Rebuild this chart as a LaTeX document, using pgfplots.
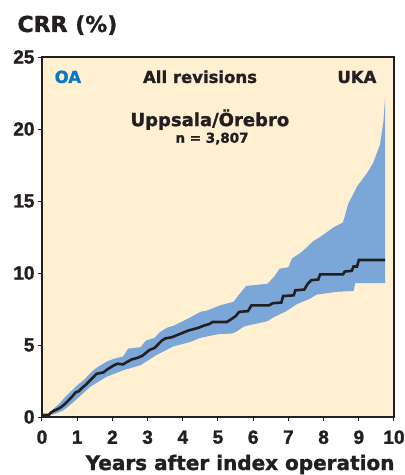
\documentclass[border=0pt]{standalone}
\usepackage{pgfplots}
\pgfplotsset{compat=1.18}
\usepackage{fontspec}
\setmainfont{DejaVu Sans}[BoldFeatures={FakeBold=1.3}]
\newfontfamily\tickfont{Liberation Sans}[BoldFeatures={FakeBold=1.5}]
\definecolor{bgc}{HTML}{FFF0D2}
\definecolor{band}{HTML}{7AA6D8}
\definecolor{oablue}{HTML}{0A78C2}
\definecolor{axc}{HTML}{231F20}
\begin{document}
\begin{tikzpicture}
  \begin{axis}[
      at={(0,0)},anchor=south west,
      width=352pt,height=360pt,scale only axis,
      xmin=0,xmax=10,ymin=0,ymax=25,
      xtick={0,1,...,10},ytick={0,5,...,25},
      tick align=outside,tick pos=left,major tick length=4pt,
      axis background/.style={fill=bgc},
      axis line style={line width=1.2pt,draw=axc},
      tick style={line width=1pt,draw=axc},
      ticklabel style={font=\tickfont\bfseries\fontsize{19}{19}\selectfont,text=axc},
      xticklabel style={yshift=-6pt},
      /pgf/number format/assume math mode=true,
    ]
    % confidence band: upper edge, then lower edge backwards
    \addplot[draw=none,fill=band] coordinates {
      (0.2,0.15)(0.3,0.5)(0.5,0.95)(0.7,1.5)(1.0,2.2)(1.2,2.6)(1.46,3.25)(1.6,3.5)
      (1.84,3.85)(2.05,4.05)(2.3,4.2)(2.45,4.75)(2.8,4.85)(2.95,5.3)(3.2,5.5)(3.35,5.9)
      (3.55,6.2)(3.75,6.35)(4.0,6.65)(4.2,6.9)(4.5,7.3)(4.7,7.4)(5.06,7.75)(5.44,8.0)
      (5.6,8.5)(5.8,9.1)(6.4,9.25)(6.6,9.75)(6.75,10.3)(7.0,10.4)(7.1,11.0)(7.4,11.5)
      (7.7,12.2)(7.9,12.5)(8.3,13.2)(8.55,13.5)(8.7,14.8)(8.95,16.0)(9.25,17.0)(9.4,17.6)
      (9.6,18.9)(9.7,20.5)(9.75,22.3)
      (9.75,9.3)(8.9,9.3)(8.85,8.75)(8.4,8.7)(7.8,8.5)(7.6,8.2)(7.25,7.85)(7.0,7.45)
      (6.9,7.3)(6.6,6.95)(6.4,6.65)(5.75,6.3)(5.5,5.9)(5.4,5.8)(5.0,5.75)(4.5,5.5)
      (4.2,5.2)(3.73,4.9)(3.25,4.3)(2.8,3.6)(2.31,3.25)(1.84,2.8)(1.37,2.1)(0.9,1.05)
      (0.6,0.45)(0.35,0.2)(0.2,0.15)
    } -- cycle;
    % CRR estimate
    \addplot[color=axc,line width=2.6pt] coordinates {
      (0,0.15)(0.2,0.15)(0.25,0.3)(0.35,0.45)(0.45,0.55)(0.55,0.7)(0.65,0.9)(0.75,1.15)
      (0.85,1.4)(0.95,1.7)(1.05,1.8)(1.15,2.05)(1.25,2.25)(1.35,2.5)(1.45,2.75)(1.55,3.0)
      (1.75,3.1)(1.85,3.3)(1.95,3.45)(2.05,3.6)(2.15,3.7)(2.3,3.65)(2.4,3.8)(2.55,4.0)
      (2.7,4.1)(2.85,4.25)(2.95,4.45)(3.05,4.65)(3.2,4.8)(3.3,5.05)(3.4,5.3)(3.5,5.45)
      (3.7,5.55)(3.85,5.7)(4.0,5.85)(4.15,6.0)(4.3,6.1)(4.45,6.2)(4.6,6.35)(4.75,6.45)
      (4.85,6.6)(5.25,6.6)(5.35,6.75)(5.5,7.0)(5.6,7.3)(5.85,7.35)(5.95,7.75)(6.45,7.75)
      (6.55,7.9)(6.8,7.95)(6.85,8.4)(7.15,8.45)(7.2,8.8)(7.45,8.85)(7.55,9.25)(7.65,9.5)
      (7.85,9.55)(7.9,9.9)(8.55,9.9)(8.6,10.1)(8.8,10.15)(8.85,10.45)(8.95,10.45)(9.0,10.9)
      (9.75,10.9)
    };
    \node[anchor=base west,text=oablue,font=\bfseries\fontsize{16.5}{16.5}\selectfont]
      at (axis cs:0.26,23.2) {OA};
    \node[anchor=base,text=axc,font=\bfseries\fontsize{16.5}{16.5}\selectfont]
      at (axis cs:4.49,23.2) {All revisions};
    \node[anchor=base east,text=axc,font=\bfseries\fontsize{16.5}{16.5}\selectfont]
      at (axis cs:9.6,23.2) {UKA};
    \node[anchor=base,text=axc,font=\bfseries\fontsize{18}{18}\selectfont]
      at (axis cs:4.77,20.2) {Uppsala/Örebro};
    \node[anchor=base,text=axc,font=\bfseries\fontsize{13.5}{13.5}\selectfont]
      at (axis cs:4.83,19.05) {n = 3,807};
  \end{axis}
  \node[anchor=base west,text=axc,font=\bfseries\fontsize{22}{22}\selectfont]
    at (-28pt,385pt) {CRR (\%)};
  \node[anchor=base east,text=axc,font=\bfseries\fontsize{20}{20}\selectfont]
    at (356pt,-53pt) {Years after index operation};
  \pgfresetboundingbox
  \path[use as bounding box] (-42pt,-58pt) rectangle (363pt,417pt);
\end{tikzpicture}
\end{document}
